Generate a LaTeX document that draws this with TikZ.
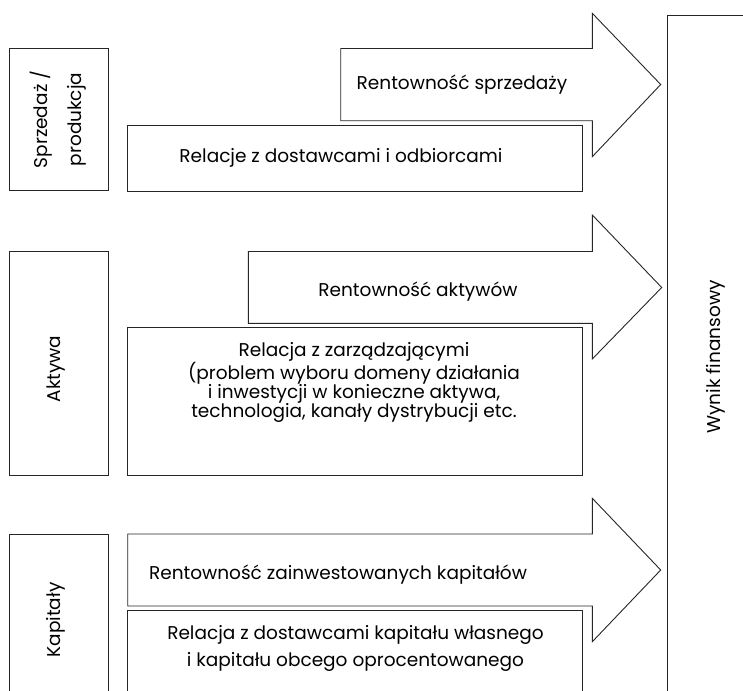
\documentclass[tikz,border=0pt]{standalone}
\usepackage{fontspec}
\setmainfont{Poppins}
\begin{document}
\begin{tikzpicture}[x=1pt,y=-1pt, line width=0.9pt, line join=miter,
  box/.style={draw=black!85, fill=white},
  lbl/.style={font=\fontsize{18.5}{19}\selectfont, align=center, inner sep=0pt, text=black}]
\useasboundingbox (0,0) rectangle (743,690);
\clip (0,0) rectangle (743,690);
% left category boxes
\draw[box] (9.5,48.5) rectangle (108.5,190.5);
\node[lbl, rotate=90, font=\fontsize{18.5}{34}\selectfont] (sp) at (58,119.5) {Sprzedaż /\\produkcja};
\draw[box] (9.5,251.7) rectangle (108.5,475);
\node[lbl, rotate=90] (ak) at (56,369) {Aktywa};
\draw[box] (9.5,534) rectangle (108.5,700);
\node[lbl, rotate=90] (ka) at (56,620) {Kapitały};
% right result box
\draw[box] (667,15) rectangle (770,700);
\node[lbl, rotate=90] (wf) at (716,357) {Wynik finansowy};
% arrow 1
\draw[box] (340.7,48.5) -- (592.3,48.5) -- (592.3,13.3) -- (660.7,84.5) -- (592.3,156.7) -- (592.3,120.7) -- (340.7,120.7) -- cycle;
\node[lbl] (a1) at (462,84.5) {Rentowność sprzedaży};
\draw[box] (127.7,125) rectangle (582,191);
\node[lbl] (r1) at (341,158) {Relacje z dostawcami i odbiorcami};
% arrow 2
\draw[box] (248.3,251.5) -- (592.3,251.5) -- (592.3,215) -- (661.7,287.5) -- (592.3,359) -- (592.3,323.3) -- (248.3,323.3) -- cycle;
\node[lbl] (a2) at (418,292) {Rentowność aktywów};
\draw[box] (127.7,327.3) rectangle (582,475.7);
\node[lbl] (r2) at (354,382.5) {Relacja z zarządzającymi\\(problem wyboru domeny działania\\i inwestycji w konieczne aktywa,\\technologia, kanały dystrybucji etc.};
% arrow 3
\draw[box] (127.7,534) -- (592.3,534) -- (592.3,498.3) -- (660.7,570) -- (592.3,641.7) -- (592.3,606) -- (127.7,606) -- cycle;
\node[lbl] (a3) at (338,575) {Rentowność zainwestowanych kapitałów};
\draw[box] (127.7,610) rectangle (582,700);
\node[lbl, font=\fontsize{18.5}{27}\selectfont] (r3) at (355.5,648.5) {Relacja z dostawcami kapitału własnego\\i kapitału obcego oprocentowanego};
\end{tikzpicture}
\end{document}
